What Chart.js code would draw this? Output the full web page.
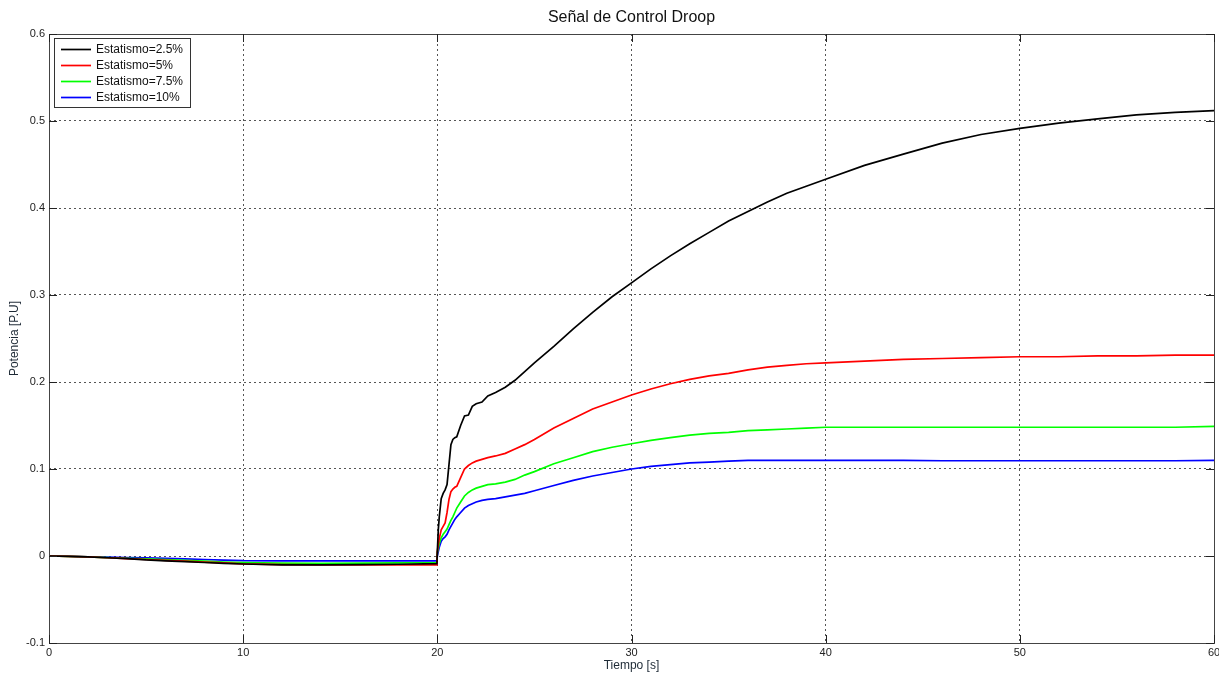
<!DOCTYPE html>
<html>
<head>
<meta charset="utf-8">
<title>Señal de Control Droop</title>
<script src="https://cdn.jsdelivr.net/npm/chart.js@4.4.0/dist/chart.umd.min.js"></script>
<style>
  html, body { margin: 0; padding: 0; background: #fff; }
  #wrap { position: relative; width: 1219px; height: 675px; }
</style>
</head>
<body>
<div id="wrap"><canvas id="droopChart"></canvas></div>
<script>
// tiempo [s]
var tiempo = [0, 1, 2, 3, 4, 5, 6, 7, 8, 9, 10,
    12, 14, 16, 18, 19.98,
    20, 20.05, 20.1, 20.2, 20.3, 20.4, 20.5, 20.6, 20.7, 20.8, 20.9, 21,
    21.2, 21.4, 21.6, 21.8, 22, 22.3, 22.6, 23, 23.5, 24, 24.5, 25,
    26, 27, 28, 29, 30, 31, 32, 33, 34, 35, 36, 37, 38, 39, 40,
    42, 44, 46, 48, 50, 52, 54, 56, 58, 60];

var estatismo25 = [0, -0.0005, -0.001, -0.002, -0.003, -0.0045, -0.0055, -0.0065, -0.0075, -0.0085, -0.0092,
    -0.0102, -0.0103, -0.0100, -0.0095, -0.0088,
    0.005, 0.03, 0.045, 0.066, 0.072, 0.076, 0.082, 0.105, 0.128, 0.134, 0.136, 0.137,
    0.15, 0.161, 0.162, 0.172, 0.175, 0.177, 0.184, 0.188, 0.194, 0.202, 0.212, 0.222,
    0.241, 0.261, 0.280, 0.298, 0.314, 0.330, 0.345, 0.359, 0.372, 0.385, 0.396, 0.407, 0.417, 0.425, 0.433,
    0.449, 0.462, 0.4745, 0.4845, 0.4915, 0.4975, 0.5025, 0.507, 0.510, 0.512];

var estatismo5 = [0, -0.0005, -0.001, -0.002, -0.003, -0.004, -0.005, -0.006, -0.007, -0.008, -0.009,
    -0.0098, -0.0102, -0.0103, -0.0103, -0.0103,
    0.005, 0.013, 0.02, 0.03, 0.034, 0.038, 0.05, 0.065, 0.074, 0.077, 0.079, 0.080,
    0.09, 0.10, 0.104, 0.107, 0.109, 0.111, 0.113, 0.115, 0.118, 0.123, 0.128, 0.134,
    0.147, 0.158, 0.169, 0.177, 0.185, 0.192, 0.198, 0.203, 0.207, 0.210, 0.214, 0.217, 0.219, 0.221, 0.222,
    0.224, 0.226, 0.227, 0.228, 0.229, 0.229, 0.230, 0.230, 0.231, 0.231];

var estatismo75 = [0, -0.0004, -0.001, -0.0018, -0.0026, -0.0034, -0.0042, -0.005, -0.006, -0.007, -0.0077,
    -0.0082, -0.0084, -0.0083, -0.0080, -0.0075,
    0.004, 0.009, 0.014, 0.021, 0.025, 0.028, 0.031, 0.036, 0.041, 0.045, 0.05, 0.055,
    0.062, 0.069, 0.073, 0.076, 0.078, 0.080, 0.082, 0.083, 0.085, 0.088, 0.093, 0.097,
    0.106, 0.113, 0.12, 0.125, 0.129, 0.133, 0.136, 0.139, 0.141, 0.142, 0.144, 0.145, 0.146, 0.147, 0.148,
    0.148, 0.148, 0.148, 0.148, 0.148, 0.148, 0.148, 0.148, 0.148, 0.149];

var estatismo10 = [0, -0.0003, -0.001, -0.0013, -0.0017, -0.002, -0.0027, -0.0033, -0.004, -0.0047, -0.0054,
    -0.0055, -0.0055, -0.0055, -0.0055, -0.0055,
    0.0, 0.005, 0.010, 0.017, 0.020, 0.022, 0.025, 0.03, 0.034, 0.038, 0.042, 0.045,
    0.050, 0.055, 0.058, 0.06, 0.062, 0.064, 0.065, 0.066, 0.068, 0.070, 0.072, 0.075,
    0.081, 0.087, 0.092, 0.096, 0.100, 0.103, 0.105, 0.107, 0.108, 0.109, 0.110, 0.110, 0.110, 0.110, 0.110,
    0.110, 0.110, 0.1095, 0.1095, 0.1095, 0.1095, 0.1095, 0.1095, 0.1095, 0.110];

var seriesLabels = ['Estatismo=2.5%', 'Estatismo=5%', 'Estatismo=7.5%', 'Estatismo=10%'];
var seriesColors = ['#000000', '#ff0000', '#00ff00', '#0000ff'];
var xTicks = [0, 10, 20, 30, 40, 50, 60];
var yTicks = [-0.1, 0, 0.1, 0.2, 0.3, 0.4, 0.5, 0.6];

var chartTitle = 'Señal de Control Droop';
var xTitle = 'Tiempo [s]';
var yTitle = 'Potencia [P.U]';

function toPoints(values) {
    return tiempo.map(function (t, i) { return { x: t, y: values[i] }; });
}

var allSeries = [estatismo25, estatismo5, estatismo75, estatismo10];
var datasets = allSeries.map(function (values, i) {
    return {
        label: seriesLabels[i],
        data: toPoints(values),
        borderColor: seriesColors[i],
        backgroundColor: seriesColors[i],
        borderWidth: 1.7,
        pointRadius: 0,
        tension: 0,
        fill: false
    };
});

// box, inside ticks, titles and legend in the matlab style
var matlabFrame = {
    id: 'matlabFrame',
    afterDraw: function (chart) {
        var ctx = chart.ctx;
        var a = chart.chartArea;
        var xs = chart.scales.x;
        var ys = chart.scales.y;
        ctx.save();

        ctx.strokeStyle = '#444';
        ctx.lineWidth = 1;
        ctx.setLineDash([]);
        ctx.strokeRect(a.left + 0.5, a.top + 0.5, a.right - a.left, a.bottom - a.top);

        var tl = 8;
        ctx.strokeStyle = '#222';
        ctx.beginPath();
        xTicks.forEach(function (v) {
            var px = Math.round(xs.getPixelForValue(v)) + 0.5;
            ctx.moveTo(px, a.bottom); ctx.lineTo(px, a.bottom - tl);
            ctx.moveTo(px, a.top); ctx.lineTo(px, a.top + tl);
        });
        yTicks.forEach(function (v) {
            var py = Math.round(ys.getPixelForValue(v)) + 0.5;
            ctx.moveTo(a.left, py); ctx.lineTo(a.left + tl, py);
            ctx.moveTo(a.right, py); ctx.lineTo(a.right - tl, py);
        });
        ctx.stroke();

        ctx.fillStyle = '#111';
        ctx.textAlign = 'center';
        ctx.textBaseline = 'middle';
        ctx.font = '16px "Liberation Sans", Arial, sans-serif';
        ctx.fillText(chartTitle, (a.left + a.right) / 2, 18);

        ctx.fillStyle = '#1e2a36';
        ctx.font = '12px "Liberation Sans", Arial, sans-serif';
        ctx.fillText(xTitle, (a.left + a.right) / 2, 666);
        ctx.save();
        ctx.translate(15, (a.top + a.bottom) / 2);
        ctx.rotate(-Math.PI / 2);
        ctx.fillText(yTitle, 0, 0);
        ctx.restore();

        // legend
        var lx = 54, ly = 38, lw = 136, lh = 69;
        ctx.fillStyle = '#fff';
        ctx.fillRect(lx, ly, lw, lh);
        ctx.strokeStyle = '#333';
        ctx.strokeRect(lx + 0.5, ly + 0.5, lw, lh);
        ctx.textAlign = 'left';
        ctx.font = '12px "Liberation Sans", Arial, sans-serif';
        chart.data.datasets.forEach(function (ds, i) {
            var ry = 49.5 + i * 16;
            ctx.strokeStyle = ds.borderColor;
            ctx.lineWidth = 1.7;
            ctx.beginPath();
            ctx.moveTo(61, ry); ctx.lineTo(91, ry);
            ctx.stroke();
            ctx.fillStyle = '#111';
            ctx.fillText(ds.label, 96, ry);
        });
        ctx.restore();
    }
};

var ctx = document.getElementById('droopChart').getContext('2d');
new Chart(ctx, {
    type: 'line',
    data: { datasets: datasets },
    options: {
        responsive: true,
        maintainAspectRatio: false,
        animation: false,
        layout: { padding: { top: 34, right: 5, left: 0, bottom: 0 } },
        plugins: {
            legend: { display: false },
            title: { display: false },
            tooltip: { enabled: false }
        },
        scales: {
            x: {
                type: 'linear',
                min: 0,
                max: 60,
                afterFit: function (scale) {
                    scale.height = 32;
                    scale.paddingLeft = 0;
                    scale.paddingRight = 0;
                },
                afterBuildTicks: function (scale) {
                    scale.ticks = xTicks.map(function (v) { return { value: v }; });
                },
                ticks: {
                    color: '#222',
                    padding: 3,
                    maxRotation: 0,
                    font: { family: '"Liberation Sans", Arial, sans-serif', size: 11 }
                },
                grid: { color: '#555', lineWidth: 1, drawTicks: false },
                border: { display: false, dash: [2, 3] }
            },
            y: {
                min: -0.1,
                max: 0.6,
                afterFit: function (scale) {
                    scale.width = 49;
                    scale.paddingTop = 0;
                    scale.paddingBottom = 0;
                },
                afterBuildTicks: function (scale) {
                    scale.ticks = yTicks.map(function (v) { return { value: v }; });
                },
                ticks: {
                    color: '#222',
                    padding: 4,
                    font: { family: '"Liberation Sans", Arial, sans-serif', size: 11 },
                    callback: function (v) { return String(Number(v.toFixed(1))); }
                },
                grid: { color: '#555', lineWidth: 1, drawTicks: false },
                border: { display: false, dash: [2, 3] }
            }
        }
    },
    plugins: [matlabFrame]
});
</script>
</body>
</html>
